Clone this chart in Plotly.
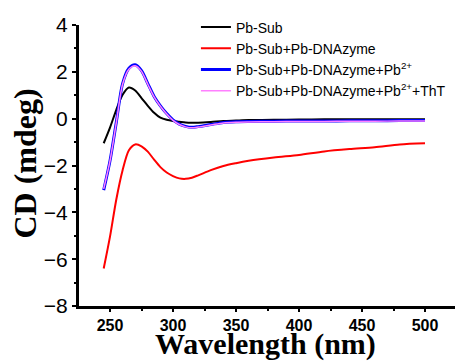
import plotly.graph_objects as go

wavelength = [245, 250, 255, 260, 265, 270, 275, 280, 285, 290, 295, 300, 305, 310,
              315, 320, 330, 340, 350, 360, 380, 400, 420, 440, 460, 480, 500]

pb_sub = [-1.05, -0.38, 0.38, 1.02, 1.33, 1.2, 0.88, 0.55, 0.25, 0.04, -0.05, -0.1,
          -0.13, -0.16, -0.17, -0.17, -0.14, -0.1, -0.08, -0.06, -0.05, -0.04, -0.03,
          -0.02, -0.02, -0.02, -0.02]

pb_sub_dnazyme = [-6.4, -5.04, -3.45, -2.2, -1.35, -1.1, -1.18, -1.41, -1.75, -2.07,
                  -2.3, -2.45, -2.55, -2.57, -2.52, -2.42, -2.2, -2.02, -1.9, -1.8,
                  -1.66, -1.55, -1.4, -1.3, -1.22, -1.1, -1.05]

pb_sub_dnazyme_pb = [-3.05, -1.8, -0.15, 1.5, 2.15, 2.3, 2.05, 1.5, 0.95, 0.55, 0.22,
                     -0.05, -0.23, -0.33, -0.37, -0.34, -0.25, -0.16, -0.13, -0.12,
                     -0.11, -0.1, -0.1, -0.09, -0.09, -0.08, -0.08]

pb_sub_dnazyme_pb_tht = [-3.0, -1.8, -0.17, 1.47, 2.11, 2.26, 2.02, 1.47, 0.93, 0.53,
                         0.2, -0.07, -0.25, -0.35, -0.39, -0.36, -0.27, -0.18, -0.15,
                         -0.14, -0.13, -0.12, -0.12, -0.11, -0.11, -0.1, -0.1]

series = [
    ("Pb-Sub", pb_sub, "#000000", 2),
    ("Pb-Sub+Pb-DNAzyme", pb_sub_dnazyme, "#FF0000", 2),
    ("Pb-Sub+Pb-DNAzyme+Pb<sup>2+</sup>", pb_sub_dnazyme_pb, "#0000FF", 3),
    ("Pb-Sub+Pb-DNAzyme+Pb<sup>2+</sup>+ThT", pb_sub_dnazyme_pb_tht, "#FF80FF", 1.5),
]

fig = go.Figure()
for name, vals, color, w in series:
    fig.add_trace(go.Scatter(x=wavelength, y=vals, mode="lines", name=name,
                             line=dict(color=color, width=w, shape="spline", smoothing=0.8)))

sans = "Liberation Sans, Arial, sans-serif"
serif = "Liberation Serif, Times New Roman, serif"

fig.update_layout(
    width=455, height=363,
    margin=dict(l=79, r=0, t=25, b=57),
    paper_bgcolor="white", plot_bgcolor="white",
    showlegend=True,
    legend=dict(x=0.311, y=1.048, xanchor="left", yanchor="top",
                font=dict(family=sans, size=14, color="black"),
                bgcolor="rgba(0,0,0,0)", tracegroupgap=0, itemwidth=30),
    xaxis=dict(range=[225.4, 523.8], tick0=250, dtick=50, showgrid=False, zeroline=False,
               showline=True, linecolor="black", linewidth=3,
               ticks="outside", ticklen=3, tickwidth=2, tickcolor="black",
               minor=dict(dtick=25, tick0=250, ticks="outside", ticklen=2, tickwidth=2, tickcolor="black"),
               tickfont=dict(family=sans, size=16, color="black", weight="bold")),
    yaxis=dict(range=[-8, 4], dtick=2, showgrid=False, zeroline=False,
               showline=True, linecolor="black", linewidth=3,
               ticks="outside", ticklen=4, tickwidth=2, tickcolor="black",
               minor=dict(dtick=1, ticks="outside", ticklen=2, tickwidth=2, tickcolor="black"),
               tickfont=dict(family=sans, size=21, color="black")),
    annotations=[
        dict(text="<b>Wavelength (nm)</b>", xref="paper", yref="paper", x=0.497, y=-0.136,
             xanchor="center", yanchor="middle", showarrow=False,
             font=dict(family=serif, size=30, color="black")),
        dict(text="<b>CD (mdeg)</b>", xref="paper", yref="paper", x=-0.1436, y=0.507,
             xanchor="center", yanchor="middle", showarrow=False, textangle=-90,
             font=dict(family=serif, size=32, color="black")),
    ],
)

fig.write_html("out.html")
